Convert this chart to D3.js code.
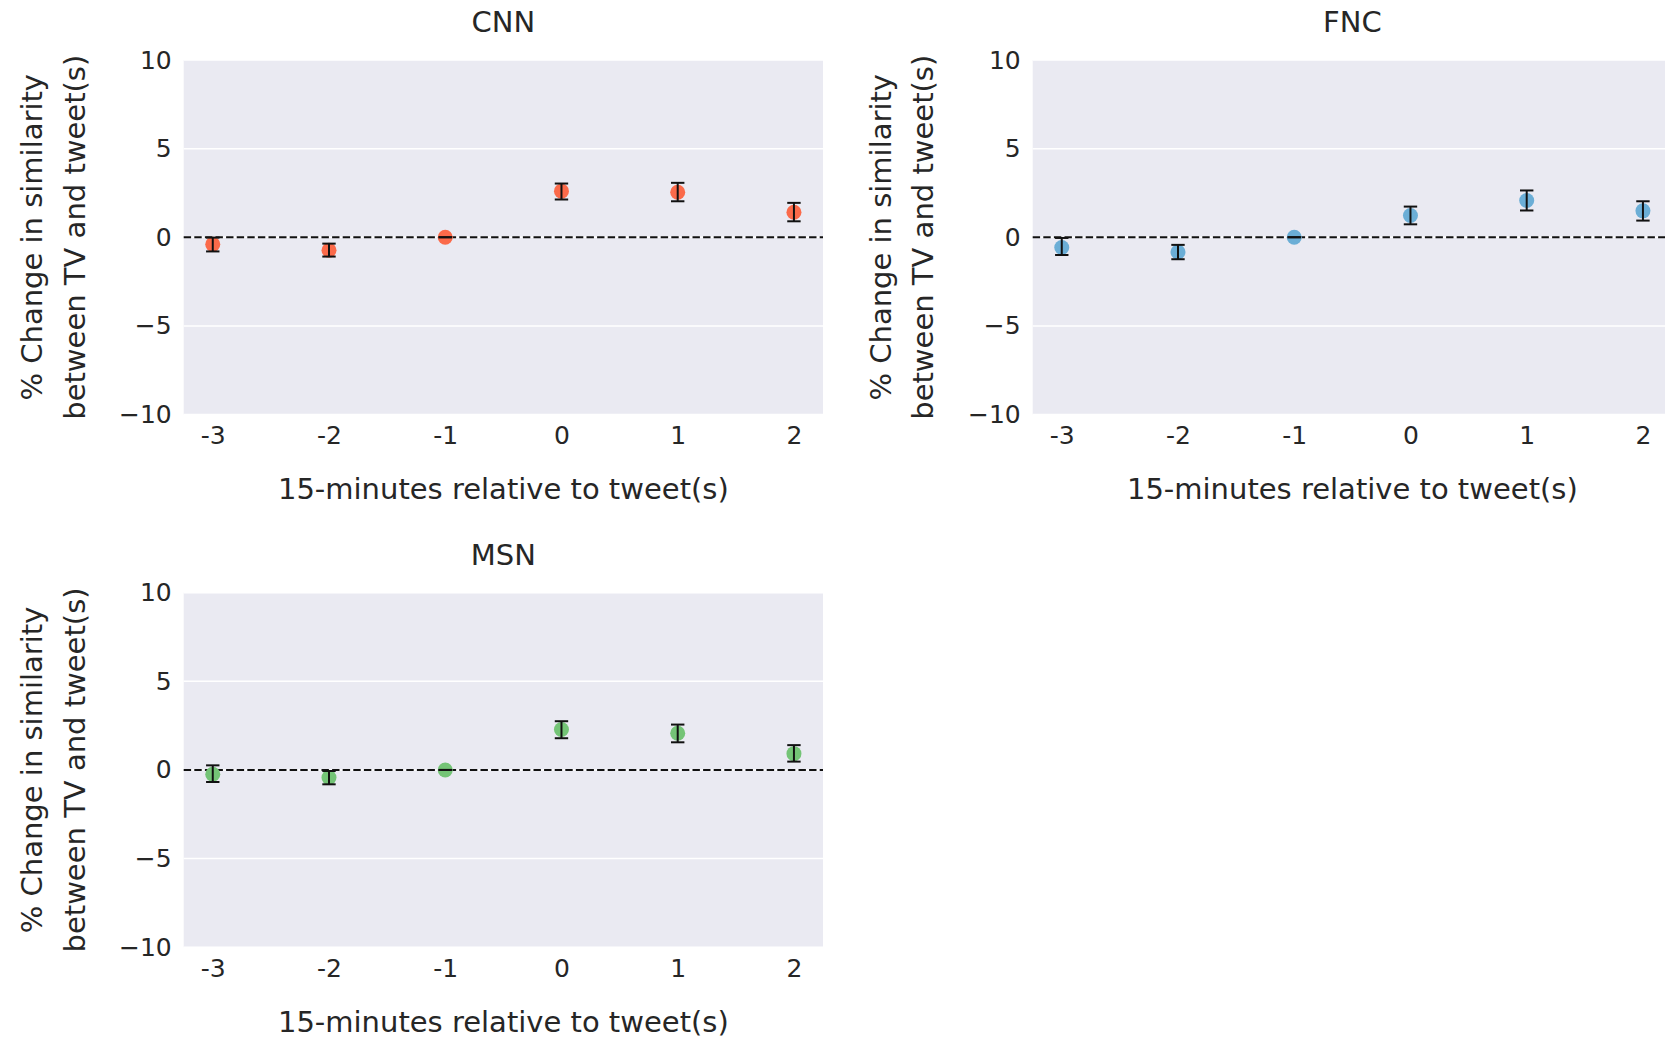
<!DOCTYPE html>
<html>
<head>
<meta charset="utf-8">
<script src="https://cdn.jsdelivr.net/npm/d3@7"></script>
<style>
  html, body { margin: 0; padding: 0; background: #fff; }
  svg { display: block; font-family: "DejaVu Sans", sans-serif; }
</style>
</head>
<body>
<svg id="chart"></svg>
<script>
// Time offsets (15-minute bins relative to tweet).
const offsets = [-3, -2, -1, 0, 1, 2];
const xTickLabels = ['-3', '-2', '-1', '0', '1', '2'];
const yTicks = [-10, -5, 0, 5, 10];

// Mean % change and confidence interval bounds per network.
const cnnMean = [-0.40, -0.73, 0, 2.60, 2.54, 1.41];
const cnnLow = [-0.80, -1.09, 0, 2.13, 2.03, 0.90];
const cnnHigh = [-0.02, -0.36, 0, 3.03, 3.07, 1.94];

const fncMean = [-0.58, -0.83, 0, 1.23, 2.07, 1.49];
const fncLow = [-1.00, -1.24, 0, 0.73, 1.51, 0.94];
const fncHigh = [-0.04, -0.43, 0, 1.73, 2.64, 2.03];

const msnMean = [-0.24, -0.43, 0, 2.28, 2.07, 0.92];
const msnLow = [-0.68, -0.81, 0, 1.79, 1.56, 0.47];
const msnHigh = [0.26, -0.06, 0, 2.75, 2.56, 1.40];

const panels = [
  { title: 'CNN', mean: cnnMean, low: cnnLow, high: cnnHigh, color: '#fb6a4a', left: 183.7, top: 60 },
  { title: 'FNC', mean: fncMean, low: fncLow, high: fncHigh, color: '#6baed6', left: 1032.7, top: 60 },
  { title: 'MSN', mean: msnMean, low: msnLow, high: msnHigh, color: '#74c476', left: 183.7, top: 592.7 },
];

const width = 1665, height = 1037;
const plotW = 639.3, plotH = 354.5;
const textColor = '#262626';

const svg = d3.select('#chart').attr('width', width).attr('height', height);

panels.forEach(p => {
  const g = svg.append('g').attr('transform', `translate(${p.left},${p.top})`);

  // Scales.
  const x = d3.scaleLinear().domain([-3.25, 2.25]).range([0, plotW]);
  const y = d3.scaleLinear().domain([-10, 10]).range([plotH, 0]);

  // Background & grid.
  g.append('rect').attr('width', plotW).attr('height', plotH).attr('fill', '#eaeaf2');
  g.selectAll('.grid')
    .data(yTicks)
    .join('line')
    .attr('x1', 0).attr('x2', plotW)
    .attr('y1', d => y(d)).attr('y2', d => y(d))
    .attr('stroke', '#fff').attr('stroke-width', 1.5);

  // Y-Axis.
  const yAxis = g.append('g')
    .call(d3.axisLeft(y).tickValues(yTicks).tickSize(0).tickPadding(12).tickFormat(d3.format('d')));
  yAxis.select('.domain').remove();
  yAxis.selectAll('text').attr('font-size', 25).attr('fill', textColor).attr('font-family', 'DejaVu Sans');

  // X-Axis.
  const xAxis = g.append('g')
    .attr('transform', `translate(0,${plotH})`)
    .call(d3.axisBottom(x).tickValues(offsets).tickSize(0).tickPadding(12)
      .tickFormat((d, i) => xTickLabels[i]));
  xAxis.select('.domain').remove();
  xAxis.selectAll('text').attr('font-size', 25).attr('fill', textColor).attr('font-family', 'DejaVu Sans');

  // Zero reference line.
  g.append('line')
    .attr('x1', 0).attr('x2', plotW)
    .attr('y1', y(0)).attr('y2', y(0))
    .attr('stroke', '#111').attr('stroke-width', 2)
    .attr('stroke-dasharray', '7.4,3.2');

  // Points.
  g.selectAll('.pt')
    .data(offsets)
    .join('circle')
    .attr('cx', d => x(d))
    .attr('cy', (d, i) => y(p.mean[i]))
    .attr('r', 7.5)
    .attr('fill', p.color);

  // Error bars.
  const capW = 6.7;
  const bars = g.selectAll('.err').data(offsets).join('g');
  bars.append('line')
    .attr('x1', d => x(d)).attr('x2', d => x(d))
    .attr('y1', (d, i) => y(p.low[i])).attr('y2', (d, i) => y(p.high[i]))
    .attr('stroke', '#111').attr('stroke-width', 2);
  bars.append('line')
    .attr('x1', d => x(d) - capW).attr('x2', d => x(d) + capW)
    .attr('y1', (d, i) => y(p.low[i])).attr('y2', (d, i) => y(p.low[i]))
    .attr('stroke', '#111').attr('stroke-width', 2);
  bars.append('line')
    .attr('x1', d => x(d) - capW).attr('x2', d => x(d) + capW)
    .attr('y1', (d, i) => y(p.high[i])).attr('y2', (d, i) => y(p.high[i]))
    .attr('stroke', '#111').attr('stroke-width', 2);

  // Title.
  g.append('text')
    .attr('x', plotW / 2).attr('y', -27.7)
    .attr('text-anchor', 'middle')
    .attr('font-size', 29).attr('fill', textColor)
    .text(p.title);

  // X label.
  g.append('text')
    .attr('x', plotW / 2).attr('y', plotH + 84.5)
    .attr('text-anchor', 'middle')
    .attr('font-size', 29).attr('fill', textColor)
    .text('15-minutes relative to tweet(s)');

  // Y label (two lines).
  [['% Change in similarity', -141.7], ['between TV and tweet(s)', -99.2]].forEach(([label, dx]) => {
    g.append('text')
      .attr('transform', `translate(${dx},${plotH / 2}) rotate(-90)`)
      .attr('text-anchor', 'middle')
      .attr('font-size', 29).attr('fill', textColor)
      .text(label);
  });
});
</script>
</body>
</html>
